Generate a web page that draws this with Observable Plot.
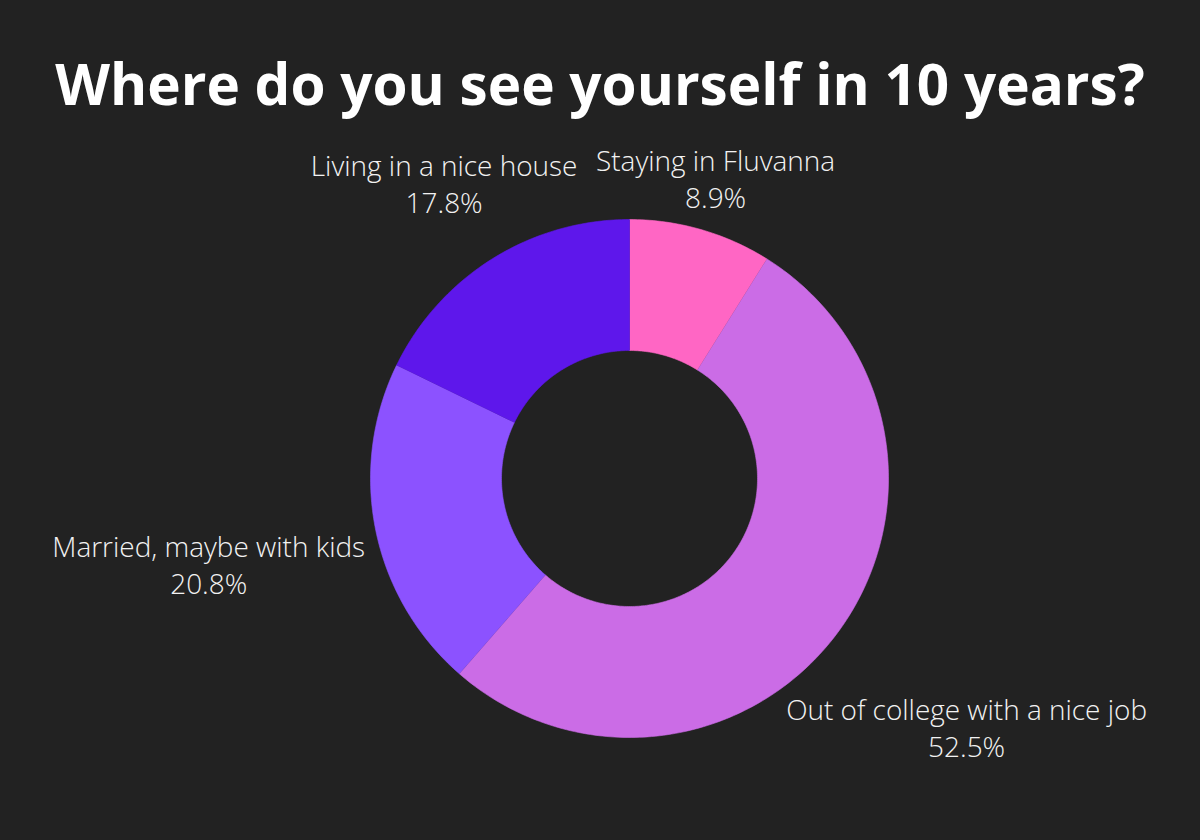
<!DOCTYPE html>
<html><head><meta charset="utf-8">
<script src="https://cdn.jsdelivr.net/npm/d3@7"></script>
<script src="https://cdn.jsdelivr.net/npm/@observablehq/plot@0.6"></script>
<style>
html,body{margin:0;padding:0;background:#222222;}
#wrap{width:1200px;height:840px;position:relative;overflow:hidden;background:#222222;}
#title{position:absolute;left:0;top:0;}
#chart{position:absolute;left:0;top:130px;}
</style></head><body>
<div id="wrap"><svg id="title" width="1200" height="130"></svg><div id="chart"></div></div>
<script>
// ---- data ----
const categories = ["Staying in Fluvanna", "Out of college with a nice job", "Married, maybe with kids", "Living in a nice house"];
const values = [8.9, 52.5, 20.8, 17.8];
const percentLabels = ["8.9%", "52.5%", "20.8%", "17.8%"];
const colors = ["#FF66C4", "#CB6CE6", "#8C52FF", "#5E17EB"];
const titleText = "Where do you see yourself in 10 years?";

// ---- layout (pixels) ----
const W = 1200, H = 710, R = 259, cx = 629, cy = 348, rInner = 128 / R;
// offset of the label's first baseline from the slice's outer mid-arc point, in px
const labelOffset = [[14.6, -58.5], [129, 87.5], [-167, 26.5], [-48, -82.5]];
const lineGap = 37;

const labelFont = '"Open Sans", "Lato", sans-serif';
const titleFont = '"Open Sans", "Lato", sans-serif';

function fitSize(text, weight, family, target) {
  const c = document.createElement("canvas").getContext("2d");
  c.font = `${weight} 100px ${family}`;
  return 100 * target / c.measureText(text).width;
}
const labelSize = fitSize("Out of college with a nice job", 300, labelFont, 361);
const titleSize = fitSize(titleText, 700, titleFont, 1090);

// title
const tsvg = d3.select("#title");
tsvg.append("text").attr("x", 600).attr("y", 105).attr("text-anchor", "middle")
  .attr("fill", "#ffffff").attr("font-family", titleFont).attr("font-weight", 700)
  .attr("font-size", titleSize).text(titleText);

// slices
const slicePts = [];
const mids = [];
let cum = 0;
values.forEach((v, i) => {
  const a0 = cum / 100 * 2 * Math.PI, a1 = (cum + v) / 100 * 2 * Math.PI;
  cum += v;
  mids.push((a0 + a1) / 2);
  const n = Math.max(4, Math.ceil(v * 4));
  for (let k = 0; k <= n; k++) { const a = a0 + (a1 - a0) * k / n; slicePts.push({name: categories[i], x: Math.sin(a), y: Math.cos(a)}); }
  for (let k = n; k >= 0; k--) { const a = a0 + (a1 - a0) * k / n; slicePts.push({name: categories[i], x: Math.sin(a) * rInner, y: Math.cos(a) * rInner}); }
});

// labels: two lines, anchored at the baseline of the last line
const labels = categories.map((c, i) => ({
  x: Math.sin(mids[i]) + labelOffset[i][0] / R,
  y: Math.cos(mids[i]) - (labelOffset[i][1] + lineGap) / R,
  text: c + "\n" + percentLabels[i]
}));

const plot = Plot.plot({
  width: W, height: H,
  marginLeft: 0, marginRight: 0, marginTop: 0, marginBottom: 0,
  style: {background: "#222222", overflow: "visible"},
  x: {domain: [-cx / R, (W - cx) / R], axis: null},
  y: {domain: [-(H - cy) / R, cy / R], axis: null},
  color: {domain: categories, range: colors},
  marks: [
    Plot.line(slicePts, {x: "x", y: "y", z: "name", fill: "name", stroke: "name", strokeWidth: 0.6, curve: "linear"}),
    Plot.text(labels, {x: "x", y: "y", text: "text", fill: "#f2f2f2", fontSize: labelSize,
      fontFamily: labelFont, fontWeight: 300, textAnchor: "middle", lineAnchor: "bottom",
      lineHeight: lineGap / labelSize})
  ]
});
document.getElementById("chart").appendChild(plot);
</script>
</body></html>
